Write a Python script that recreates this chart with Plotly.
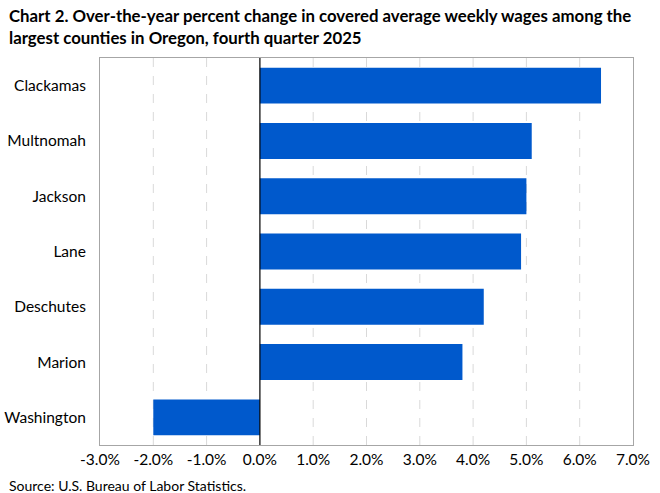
import plotly.graph_objects as go

counties = ["Clackamas", "Multnomah", "Jackson", "Lane", "Deschutes", "Marion", "Washington"]
pct_change = [6.4, 5.1, 5.0, 4.9, 4.2, 3.8, -2.0]
tick_vals = [-3, -2, -1, 0, 1, 2, 3, 4, 5, 6, 7]
tick_text = ["-3.0%", "-2.0%", "-1.0%", "0.0%", "1.0%", "2.0%", "3.0%", "4.0%", "5.0%", "6.0%", "7.0%"]

FONT = "Lato"
PLOT_H = 493 - 58 - 48

fig = go.Figure()
fig.add_trace(go.Bar(
    x=pct_change, y=counties, orientation="h",
    marker=dict(color="#0059CC", line=dict(width=0)),
    width=0.65, hoverinfo="x+y",
))

for v in tick_vals:
    if v in (-3, 0, 7):
        continue
    fig.add_shape(type="line", xref="x", yref="paper", x0=v, x1=v, y0=0, y1=1,
                  line=dict(color="#D9D9D9", width=1, dash="dash"), layer="below")
fig.add_shape(type="line", xref="x", yref="paper", x0=0, x1=0, y0=0, y1=1,
              line=dict(color="#000000", width=1.2), layer="above")

fig.update_layout(
    width=660, height=493,
    margin=dict(l=100, r=27, t=58, b=48),
    paper_bgcolor="white", plot_bgcolor="white",
    showlegend=False,
    font=dict(family=FONT, size=15, color="#000000"),
    xaxis=dict(
        range=[-3, 7], tickvals=tick_vals, ticktext=tick_text,
        showgrid=False, zeroline=False, ticks="", automargin=False,
        showline=True, linecolor="#A6A6A6", linewidth=1, mirror=True,
        tickfont=dict(family=FONT, size=15.5), fixedrange=True,
    ),
    yaxis=dict(
        categoryorder="array", categoryarray=counties[::-1],
        showgrid=False, zeroline=False, ticks="", ticklabelstandoff=10,
        automargin=False,
        showline=True, linecolor="#A6A6A6", linewidth=1, mirror=True,
        tickfont=dict(family=FONT, size=15.5), fixedrange=True,
    ),
)

fig.add_annotation(
    text="<b>Chart 2. Over-the-year percent change in covered average weekly wages among the<br>largest counties in Oregon, fourth quarter 2025</b>",
    xref="paper", yref="paper", x=-93 / 533, xanchor="left",
    y=1 + 55 / PLOT_H, yanchor="top", align="left", showarrow=False,
    font=dict(family=FONT, size=16.8, color="#000000"),
)
fig.add_annotation(
    text="Source: U.S. Bureau of Labor Statistics.", xref="paper", yref="paper",
    x=-93 / 533, xanchor="left", y=-(30 / PLOT_H), yanchor="top", showarrow=False,
    font=dict(family=FONT, size=14, color="#000000"),
)

fig.write_html("out.html")
